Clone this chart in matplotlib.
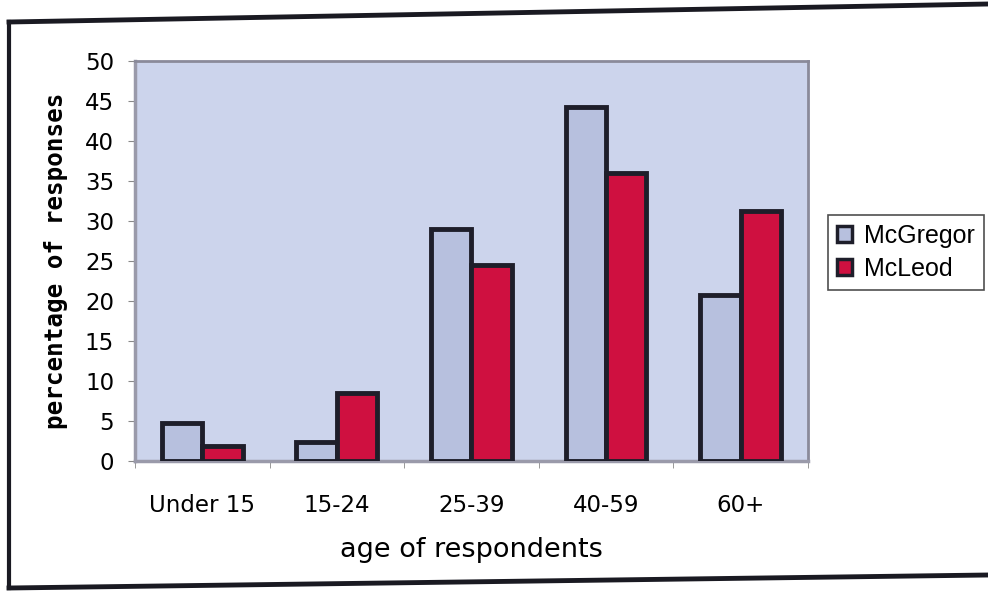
import numpy as np
import matplotlib.pyplot as plt
from matplotlib.lines import Line2D
from matplotlib.patches import Patch

# percentage of responses by age group, two sites
age_groups = ['Under 15', '15-24', '25-39', '40-59', '60+']
mcgregor = [4.8, 2.4, 29.0, 44.2, 20.8]
mcleod = [1.9, 8.5, 24.5, 36.0, 31.2]
series_names = ['McGregor', 'McLeod']
y_ticks = [0, 5, 10, 15, 20, 25, 30, 35, 40, 45, 50]

col_mcg = '#b7c0de'
col_mcl = '#cf1040'
bg = '#ccd4ec'

fig = plt.figure(figsize=(9.88, 5.93), dpi=100)
ax = fig.add_axes([0.1366, 0.2226, 0.6812, 0.6745])
ax.set_facecolor(bg)

x = np.arange(len(age_groups))
w = 0.30
ax.bar(x - w / 2, mcgregor, w, color=col_mcg, edgecolor='#1e1e2a', linewidth=3.5, zorder=3)
ax.bar(x + w / 2, mcleod, w, color=col_mcl, edgecolor='#1e1e2a', linewidth=3.5, zorder=3)

ax.set_xlim(-0.5, len(age_groups) - 0.5)
ax.set_ylim(0, 50)
ax.set_yticks(y_ticks)
ax.set_yticklabels([str(t) for t in y_ticks], fontsize=16.5, family='DejaVu Sans')
ax.set_xticks(x)
ax.set_xticklabels(age_groups, fontsize=16.5, family='DejaVu Sans')
ax.tick_params(axis='x', length=0, pad=24)
ax.tick_params(axis='y', length=5, color='#888888', pad=10)
# category boundary ticks below the axis
ax.set_xticks(np.arange(-0.5, len(age_groups), 1.0), minor=True)
ax.tick_params(axis='x', which='minor', length=5, color='#888888')

for side in ['top', 'right']:
    ax.spines[side].set_color('#8a8a9a')
    ax.spines[side].set_linewidth(2)
for side in ['left', 'bottom']:
    ax.spines[side].set_color('#9a9aaa')
    ax.spines[side].set_linewidth(2.5)

ax.set_xlabel('age of respondents', fontsize=19.5, family='DejaVu Sans', labelpad=14)
ax.set_ylabel('percentage of responses', fontsize=17.5, family='DejaVu Sans Mono',
              fontweight='bold', labelpad=12)

handles = [Patch(facecolor=col_mcg, edgecolor='#1e1e2a', linewidth=2.5),
           Patch(facecolor=col_mcl, edgecolor='#1e1e2a', linewidth=2.5)]
leg = fig.legend(handles, series_names, loc='center left', bbox_to_anchor=(0.838, 0.574),
                 prop={'family': 'Liberation Sans', 'size': 18}, frameon=True, fancybox=False,
                 handlelength=0.6, handleheight=0.6, handletextpad=0.5, borderpad=0.35,
                 labelspacing=0.35, borderaxespad=0)
leg.get_frame().set_edgecolor('#222222')
leg.get_frame().set_linewidth(1.2)

# outer chart frame (slightly skewed from the scan)
H, W = 593.0, 988.0
def fx(px):
    return px / W
def fy(py):
    return 1 - py / H
fig.add_artist(Line2D([fx(9), fx(988)], [fy(22), fy(4)], color='#1a1a22', linewidth=3.5))
fig.add_artist(Line2D([fx(9), fx(9)], [fy(22), fy(588)], color='#1a1a22', linewidth=3))
fig.add_artist(Line2D([fx(9), fx(988)], [fy(588), fy(575)], color='#1a1a22', linewidth=3.5))

fig.savefig('out.png', dpi=100)
